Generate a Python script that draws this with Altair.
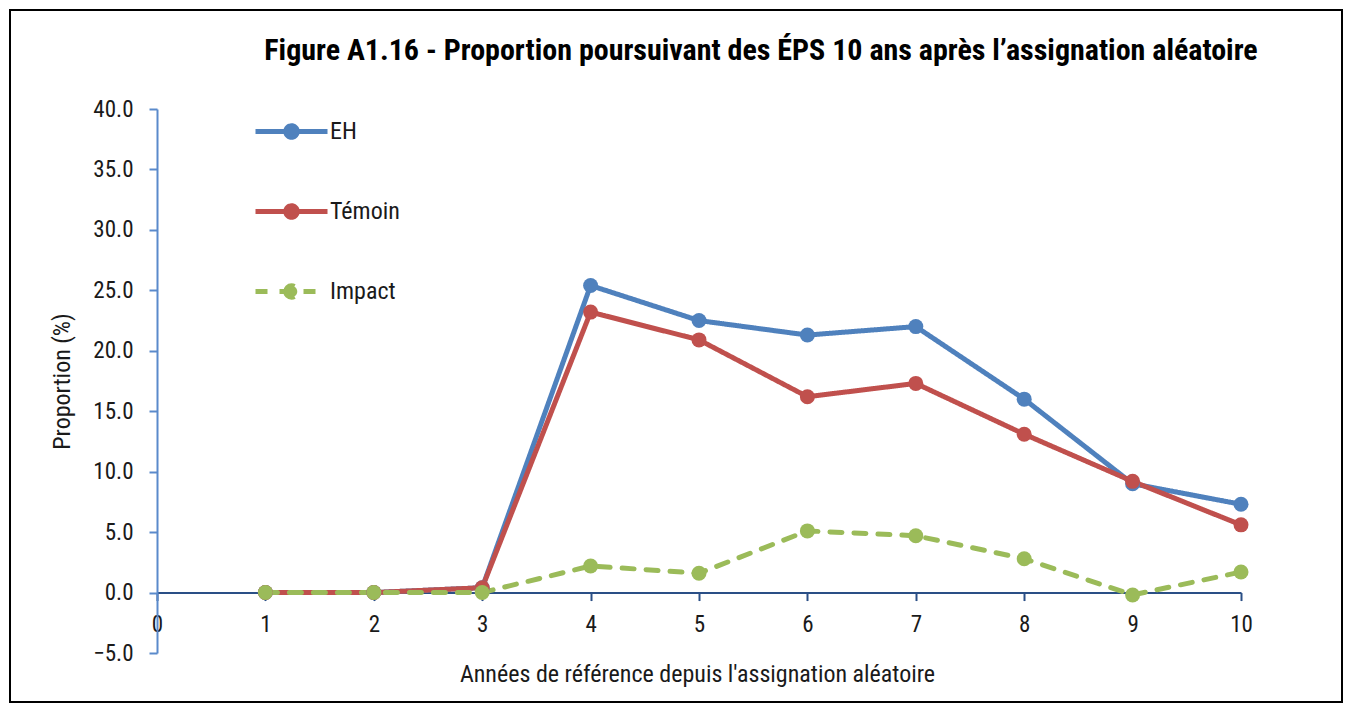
import altair as alt
import pandas as pd

# ---- data ----
years = [1, 2, 3, 4, 5, 6, 7, 8, 9, 10]
eh = [0.0, 0.0, 0.4, 25.4, 22.5, 21.3, 22.0, 16.0, 9.0, 7.3]
temoin = [0.0, 0.0, 0.4, 23.2, 20.9, 16.2, 17.3, 13.1, 9.2, 5.6]
impact = [0.0, 0.0, 0.0, 2.2, 1.6, 5.1, 4.7, 2.8, -0.2, 1.7]
series_names = ["EH", "Témoin", "Impact"]
series_colors = ["#4F81BD", "#C0504D", "#9BBB59"]
series_dashes = [[1, 0], [1, 0], [12, 12]]
x_ticks = [0, 1, 2, 3, 4, 5, 6, 7, 8, 9, 10]
y_ticks = [-5, 0, 5, 10, 15, 20, 25, 30, 35, 40]

title_text = "Figure A1.16 - Proportion poursuivant des ÉPS 10 ans après l’assignation aléatoire"
x_title = "Années de référence depuis l'assignation aléatoire"
y_title = "Proportion (%)"

rows = []
for name, vals in zip(series_names, [eh, temoin, impact]):
    for yr, v in zip(years, vals):
        rows.append({"year": yr, "value": v, "series": name})
df = pd.DataFrame(rows)

FONT = "Liberation Sans Narrow, Arial Narrow, Roboto Condensed, DejaVu Sans Condensed, sans-serif"
W, H = 1084, 544
y_min, y_max = -5, 40
zero_offset = -H * (0 - y_min) / (y_max - y_min)
TXT = "#1a1a1a"

LEG_PATH = ("M-1,0L1,0M-0.16,0A0.16,0.16,0,1,0,0.16,0A0.16,0.16,0,1,0,-0.16,0Z")
legend = alt.Legend(
    orient="none", legendX=96, legendY=-16, title=None,
    symbolType=LEG_PATH, symbolSize=5184, symbolStrokeWidth=5,
    labelFont=FONT, labelFontSize=24, labelColor=TXT,
    rowPadding=25, labelOffset=0, padding=0,
)

color = alt.Color("series:N",
                  scale=alt.Scale(domain=series_names, range=series_colors),
                  legend=legend, sort=series_names)
dash = alt.StrokeDash("series:N",
                      scale=alt.Scale(domain=series_names, range=series_dashes),
                      legend=legend, sort=series_names)

x = alt.X("year:Q",
          scale=alt.Scale(domain=[0, 10], nice=False, zero=False),
          axis=alt.Axis(values=x_ticks, format="d", offset=zero_offset,
                        title=x_title, titleX=W / 2 - 2, titleY=82,
                        titleAlign="center", titleBaseline="middle",
                        titleFont=FONT, titleFontSize=24, titleFontWeight="normal",
                        titleColor=TXT,
                        labelFont=FONT, labelFontSize=23, labelColor=TXT,
                        labelPadding=13, labelFlush=False,
                        domainColor="#2A4F86", domainWidth=2,
                        tickColor="#2A4F86", tickWidth=2, tickSize=8,
                        grid=False))
y = alt.Y("value:Q",
          scale=alt.Scale(domain=[y_min, y_max], nice=False),
          axis=alt.Axis(values=y_ticks, format=".1f",
                        title=y_title, titleX=-95, titleY=H / 2, titleAngle=-90,
                        titleAlign="center", titleBaseline="middle",
                        titleFont=FONT, titleFontSize=24, titleFontWeight="normal",
                        titleColor=TXT,
                        labelFont=FONT, labelFontSize=23, labelColor=TXT,
                        labelPadding=16,
                        domainColor="#5A8ACB", domainWidth=2,
                        tickColor="#5A8ACB", tickWidth=2, tickSize=8,
                        grid=False))

base = alt.Chart(df)
lines = base.mark_line(strokeWidth=5, strokeCap="round").encode(
    x=x, y=y, color=color, strokeDash=dash, detail="series:N")
points = base.mark_point(filled=True, size=225, opacity=1, shape="circle").encode(
    x=x, y=y, color=color)

border = alt.Chart(alt.Data(values=[{}])).mark_rect(
    fill=None, stroke="#000000", strokeWidth=2).encode(
    x=alt.value(-147), x2=alt.value(W + 101),
    y=alt.value(-99), y2=alt.value(H + 49))

chart = alt.layer(lines, points, border).properties(
    width=W, height=H,
    padding={"left": 149, "top": 101, "right": 102, "bottom": 51},
    autosize=alt.AutoSizeParams(type="none"),
    background="white",
    title=alt.TitleParams(text=title_text, font=FONT, fontSize=30, fontWeight="bold",
                          color="#000000", anchor="middle", dx=62, offset=0,
                          baseline="alphabetic", dy=81),
).configure_view(stroke=None)

chart.save("out.html", embed_options={"renderer": "svg", "actions": False})
